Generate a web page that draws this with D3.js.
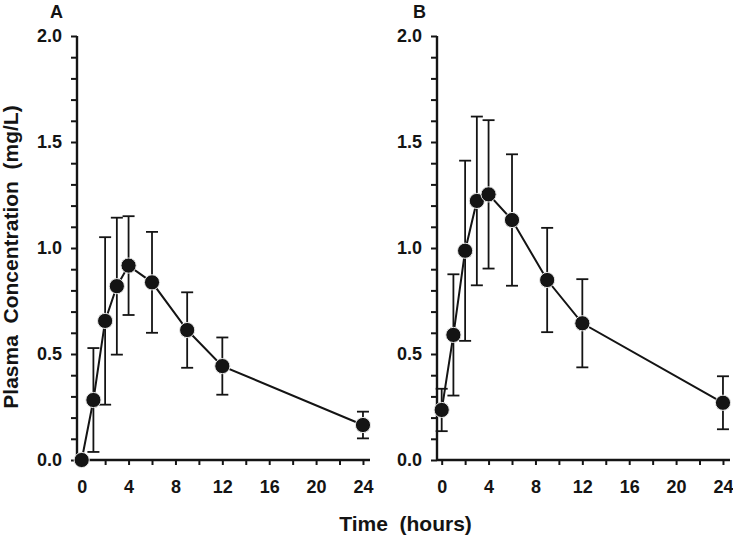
<!DOCTYPE html>
<html><head><meta charset="utf-8">
<script src="https://cdn.jsdelivr.net/npm/d3@7"></script>
<style>body{margin:0;background:#fff}svg{display:block}</style>
</head><body>
<svg id="c" width="733" height="535"></svg>
<script>
const times = [0, 1, 2, 3, 4, 6, 9, 12, 24];
const meanA = [0.0, 0.283, 0.656, 0.82, 0.917, 0.838, 0.613, 0.443, 0.165];
const sdA   = [0.0, 0.245, 0.395, 0.323, 0.233, 0.238, 0.178, 0.135, 0.063];
const meanB = [0.236, 0.59, 0.987, 1.222, 1.253, 1.132, 0.849, 0.645, 0.27];
const sdB   = [0.1, 0.286, 0.425, 0.398, 0.35, 0.31, 0.246, 0.208, 0.125];
const xMajorTicks = [0, 4, 8, 12, 16, 20, 24];
const xMinorTicks = [2, 6, 10, 14, 18, 22];
const yMajorTicks = [0, 0.5, 1.0, 1.5, 2.0];
const yMinorTicks = [0.1,0.2,0.3,0.4,0.6,0.7,0.8,0.9,1.1,1.2,1.3,1.4,1.6,1.7,1.8,1.9];
const panelLabels = ["A", "B"];
const yTitle = "Plasma\u00a0\u00a0Concentration\u00a0\u00a0(mg/L)";
const xTitle = "Time\u00a0\u00a0(hours)";

(function(){
const svg = d3.select("#c");
const ink = "#141414";
const font = "'Liberation Sans', Arial, sans-serif";

const panels = [
  {left: 77, right: 370, mean: meanA, sd: sdA, label: panelLabels[0], lx: 50},
  {left: 437, right: 730, mean: meanB, sd: sdB, label: panelLabels[1], lx: 413}
];
const plotTop = 36, plotBottom = 460;

panels.forEach(p => {
  const x = d3.scaleLinear().domain([-0.4, 24.6]).range([p.left, p.right]);
  const y = d3.scaleLinear().domain([0, 2]).range([plotBottom, plotTop]);
  const g = svg.append("g");

  const yMinor = g.append("g").attr("transform", `translate(${p.left},0)`)
    .call(d3.axisLeft(y).tickValues(yMinorTicks).tickSize(6).tickFormat(""));
  const yMajor = g.append("g").attr("transform", `translate(${p.left},0)`)
    .call(d3.axisLeft(y).tickValues(yMajorTicks).tickSize(6).tickPadding(9).tickFormat(d3.format(".1f")));
  const xMinor = g.append("g").attr("transform", `translate(0,${plotBottom})`)
    .call(d3.axisBottom(x).tickValues(xMinorTicks).tickSize(5).tickFormat(""));
  const xMajor = g.append("g").attr("transform", `translate(0,${plotBottom})`)
    .call(d3.axisBottom(x).tickValues(xMajorTicks).tickSize(5).tickPadding(15).tickFormat(d3.format("d")));

  [yMinor, yMajor, xMinor, xMajor].forEach(a => {
    a.attr("font-size", 18).attr("font-family", font);
    a.select(".domain").attr("stroke", ink).attr("stroke-width", 2.4);
    a.selectAll(".tick line").attr("stroke", ink).attr("stroke-width", 2);
    a.selectAll("text").attr("fill", ink).attr("font-family", font)
      .attr("font-weight", "bold").attr("font-size", 18);
  });
  yMinor.select(".domain").remove();
  xMinor.select(".domain").remove();
  xMajor.select(".domain").attr("d", `M${p.left},0H${p.right}`);
  yMajor.select(".domain").attr("d", `M0,${plotBottom}V${plotTop}`);

  const data = times.map((t, i) => ({t, m: p.mean[i], s: p.sd[i]}));

  const eb = g.append("g").attr("stroke", ink).attr("stroke-width", 1.8).attr("fill", "none");
  data.filter(d => d.s > 0).forEach(d => {
    const cx = x(d.t), y1 = y(d.m + d.s), y0 = y(d.m - d.s);
    eb.append("line").attr("x1", cx).attr("x2", cx).attr("y1", y1).attr("y2", y0);
    eb.append("line").attr("x1", cx - 6).attr("x2", cx + 6).attr("y1", y1).attr("y2", y1);
    eb.append("line").attr("x1", cx - 6).attr("x2", cx + 6).attr("y1", y0).attr("y2", y0);
  });

  g.append("path").datum(data)
    .attr("d", d3.line().x(d => x(d.t)).y(d => y(d.m)))
    .attr("fill", "none").attr("stroke", ink).attr("stroke-width", 2);

  g.selectAll("circle").data(data).join("circle")
    .attr("cx", d => x(d.t)).attr("cy", d => y(d.m)).attr("r", 7.6)
    .attr("fill", ink).attr("stroke", "#e8e8e8").attr("stroke-width", 1);

  svg.append("text").attr("x", p.lx).attr("y", 18).text(p.label)
    .attr("font-family", font).attr("font-weight", "bold").attr("font-size", 18).attr("fill", ink);
});

svg.append("text").attr("transform", "translate(18,257) rotate(-90)")
  .attr("text-anchor", "middle").text(yTitle)
  .attr("font-family", font).attr("font-weight", "bold").attr("font-size", 21).attr("fill", ink);

svg.append("text").attr("x", 405.5).attr("y", 531)
  .attr("text-anchor", "middle").text(xTitle)
  .attr("font-family", font).attr("font-weight", "bold").attr("font-size", 21).attr("fill", ink);
})();
</script>
</body></html>
